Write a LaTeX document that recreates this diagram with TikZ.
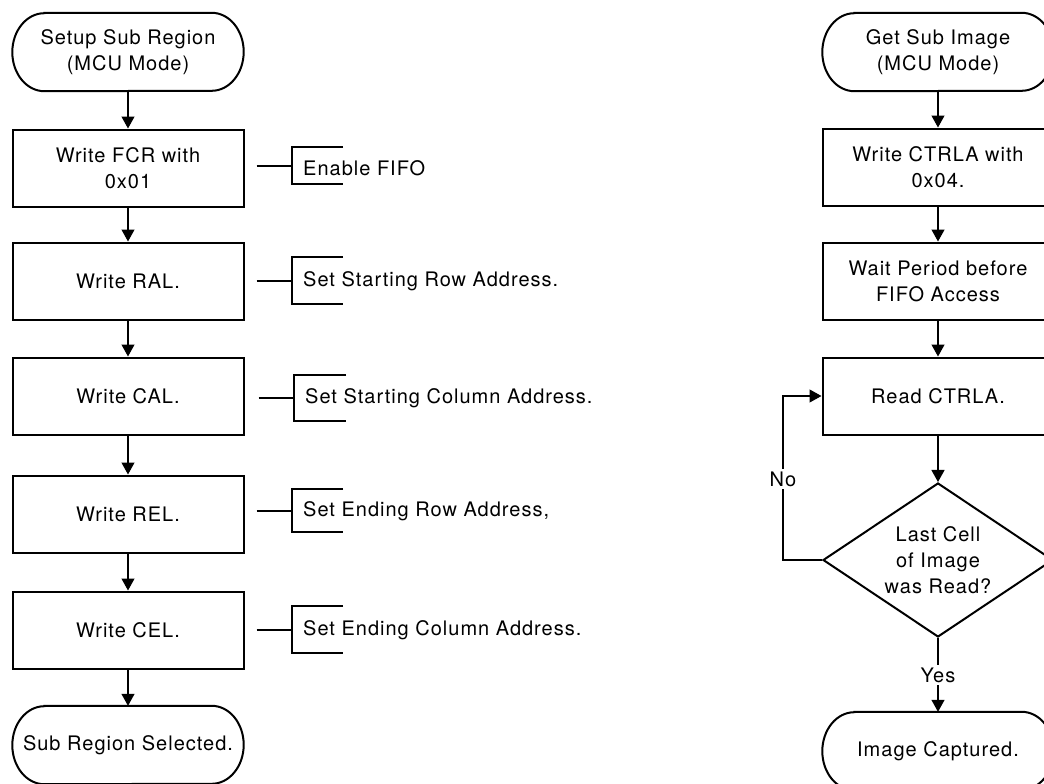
\documentclass[tikz,border=0pt]{standalone}
\usepackage{fontspec}
\setmainfont[LetterSpace=5]{TeX Gyre Heros}
\usepackage{tikz}
\usetikzlibrary{shapes.geometric,arrows.meta}

\begin{document}
\begin{tikzpicture}[x=1pt, y=-1pt,
        font=\fontsize{20}{26}\selectfont,
        termbox/.style={rectangle, minimum width=231pt, minimum height=78pt,
            inner xsep=0pt, align=center},
        termline/.style={line width=2pt},
        stepbox/.style={rectangle, draw, line width=2pt,
            minimum width=231pt, minimum height=77pt, align=center},
        decision/.style={diamond, draw, line width=2pt, aspect=1.5, inner sep=0pt,
            minimum width=230pt, minimum height=154pt, align=center},
        link/.style={line width=1.2pt, -{Triangle[width=13pt,length=12pt]}},
        plain/.style={line width=1.2pt},
        note/.style={anchor=west, inner sep=0pt},
        flowtag/.style={fill=white, inner sep=3pt}
    ]
        \useasboundingbox (0,0) rectangle (1044,784);

        % left flow
        \node[termbox] (startl) at (128,52) {Setup Sub Region\\(MCU Mode)};
        \node[stepbox] (fcr) at (128,168) {Write FCR with\\0x01};
        \node[stepbox] (ral) at (128,281) {Write RAL.};
        \node[stepbox] (cal) at (128,396) {Write CAL.};
        \node[stepbox] (rel) at (128,514) {Write REL.};
        \node[stepbox] (cel) at (128,630) {Write CEL.};
        \node[termbox] (endl) at (128,745) {Sub Region Selected.};

        \draw[link] (startl) -- (fcr);
        \draw[link] (fcr) -- (ral);
        \draw[link] (ral) -- (cal);
        \draw[link] (cal) -- (rel);
        \draw[link] (rel) -- (cel);
        \draw[link] (cel) -- (endl);

        % notes
        \coordinate (fcrb) at (292,166);
        \coordinate (ralb) at (292,281);
        \coordinate (calb) at (294,398);
        \coordinate (relb) at (292,511);
        \coordinate (celb) at (292,630);
        \node[note] (fcrn) at (303,168) {Enable FIFO};
        \node[note] (raln) at (303,281) {Set Starting Row Address.};
        \node[note] (caln) at (305,398) {Set Starting Column Address.};
        \node[note] (reln) at (303,511) {Set Ending Row Address,};
        \node[note] (celn) at (303,630) {Set Ending Column Address.};

        \draw[plain, shorten <=12pt] (fcr.east |- fcrb) -- (fcrb);
        \draw[plain, shorten <=12pt] (ral.east |- ralb) -- (ralb);
        \draw[plain, shorten <=14pt] (cal.east |- calb) -- (calb);
        \draw[plain, shorten <=12pt] (rel.east |- relb) -- (relb);
        \draw[plain, shorten <=12pt] (cel.east |- celb) -- (celb);
        \draw[plain] (fcrb) ++(51,-19) -- ++(-51,0) -- ++(0,37) -- ++(51,0);
        \draw[plain] (ralb) ++(51,-24) -- ++(-51,0) -- ++(0,47) -- ++(51,0);
        \draw[plain] (calb) ++(52,-23) -- ++(-52,0) -- ++(0,46) -- ++(52,0);
        \draw[plain] (relb) ++(51,-22) -- ++(-51,0) -- ++(0,43) -- ++(51,0);
        \draw[plain] (celb) ++(51,-24) -- ++(-51,0) -- ++(0,47) -- ++(51,0);

        % right flow
        \node[termbox] (startr) at (938,52) {Get Sub Image\\(MCU Mode)};
        \node[stepbox] (ctrla) at (938,167) {Write CTRLA with\\0x04.};
        \node[stepbox] (wait) at (938,281) {Wait Period before\\FIFO Access};
        \node[stepbox] (rd) at (938,396) {Read CTRLA.};
        \node[decision] (last) at (938,560) {Last Cell\\of Image\\was Read?};
        \node[termbox] (endr) at (938,751) {Image Captured.};
        \coordinate (noturn) at (783,396);

        % terminal outlines
        \foreach \t in {startl,endl,startr,endr}
            \draw[termline] ([xshift=32pt]\t.north west) -- ([xshift=-32pt]\t.north east)
                arc[start angle=90, end angle=-90, x radius=32pt, y radius=39pt]
                -- ([xshift=32pt]\t.south west)
                arc[start angle=270, end angle=90, x radius=32pt, y radius=39pt] -- cycle;

        \draw[link] (startr) -- (ctrla);
        \draw[link] (ctrla) -- (wait);
        \draw[link] (wait) -- (rd);
        \draw[link] (rd) -- (last);
        \draw[link] (last.south) -- (endr.north);
        \draw[link] (last.west) -| (noturn) -- (rd.west);

        \node[flowtag] (nolab) at (783,479) {No};
        \node[flowtag] (yeslab) at (938,675) {Yes};
    \end{tikzpicture}
\end{document}
